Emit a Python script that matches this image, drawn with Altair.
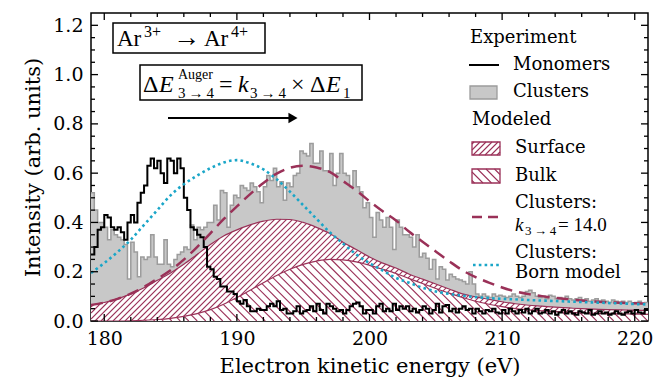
import altair as alt
import numpy as np
import pandas as pd

# ---------------- data ----------------
BIN_START = 179.0
BIN_WIDTH = 0.25

monomers = [
    0.27, 0.30, 0.37, 0.38, 0.43, 0.42, 0.38, 0.37, 0.38, 0.36,
    0.33, 0.40, 0.43, 0.40, 0.48, 0.52, 0.55, 0.63, 0.66, 0.62,
    0.65, 0.60, 0.56, 0.66, 0.65, 0.60, 0.66, 0.62, 0.50, 0.45,
    0.38, 0.37, 0.35, 0.34, 0.30, 0.22, 0.21, 0.18, 0.17, 0.14,
    0.14, 0.12, 0.12, 0.11, 0.08, 0.07, 0.085, 0.06, 0.04, 0.04,
    0.05, 0.045, 0.045, 0.06, 0.07, 0.06, 0.08, 0.045, 0.05, 0.03,
    0.03, 0.04, 0.06, 0.03, 0.04, 0.045, 0.06, 0.04, 0.07, 0.045,
    0.03, 0.07, 0.06, 0.05, 0.04, 0.045, 0.03, 0.045, 0.06, 0.07,
    0.075, 0.06, 0.03, 0.045, 0.045, 0.03, 0.06, 0.07, 0.04, 0.05,
    0.04, 0.07, 0.045, 0.06, 0.05, 0.06, 0.04, 0.05, 0.035, 0.045,
    0.06, 0.05, 0.03, 0.045, 0.07, 0.035, 0.06, 0.065, 0.04, 0.05,
    0.035, 0.05, 0.06, 0.045, 0.05, 0.03, 0.05, 0.04, 0.03, 0.045,
    0.04, 0.05, 0.035, 0.03, 0.045, 0.03, 0.05, 0.04, 0.03, 0.045,
    0.035, 0.05, 0.03, 0.04, 0.05, 0.03, 0.035, 0.045, 0.03, 0.04,
    0.025, 0.035, 0.045, 0.03, 0.04, 0.03, 0.025, 0.04, 0.035, 0.03,
    0.045, 0.025, 0.03, 0.04, 0.03, 0.035, 0.025, 0.03, 0.04, 0.03,
    0.025, 0.035, 0.04, 0.03, 0.045, 0.035, 0.03, 0.045,
]

clusters = [
    0.52, 0.45, 0.40, 0.40, 0.38, 0.33, 0.37, 0.35, 0.34, 0.33,
    0.31, 0.17, 0.32, 0.28, 0.18, 0.26, 0.25, 0.26, 0.35, 0.26,
    0.23, 0.23, 0.33, 0.23, 0.22, 0.25, 0.27, 0.28, 0.30, 0.29,
    0.39, 0.33, 0.38, 0.37, 0.38, 0.40, 0.40, 0.47, 0.41, 0.53,
    0.52, 0.38, 0.47, 0.51, 0.50, 0.55, 0.54,
    0.53, 0.56, 0.545, 0.525, 0.48, 0.545, 0.59, 0.57, 0.62, 0.545,
    0.565, 0.49, 0.56, 0.545, 0.59, 0.60, 0.69, 0.68, 0.67, 0.72,
    0.64, 0.64, 0.69, 0.61, 0.61, 0.68, 0.55, 0.60, 0.68, 0.60,
    0.59, 0.545, 0.61, 0.545, 0.525, 0.46, 0.48, 0.42, 0.34, 0.44,
    0.41, 0.38, 0.42, 0.38, 0.29, 0.41, 0.38,
    0.35, 0.35, 0.34, 0.30, 0.35, 0.26, 0.275, 0.255, 0.21, 0.25,
    0.17, 0.22, 0.21, 0.166, 0.19, 0.18, 0.17, 0.166, 0.16, 0.15,
    0.20, 0.15, 0.11,
    0.10, 0.11, 0.10, 0.095, 0.11, 0.10, 0.105, 0.10, 0.095, 0.10,
    0.11, 0.10, 0.095, 0.10, 0.12, 0.125, 0.115, 0.10, 0.095, 0.10,
    0.09, 0.105, 0.10, 0.09, 0.095, 0.09, 0.10, 0.09, 0.085, 0.09,
    0.095, 0.085, 0.09, 0.08, 0.085, 0.09, 0.08, 0.085, 0.08, 0.075,
    0.085, 0.08, 0.075, 0.08, 0.075, 0.08, 0.07, 0.075, 0.08, 0.07,
    0.075,
]

model_energy = list(range(179, 222))
surface = [0.065, 0.075, 0.09, 0.11, 0.135, 0.165, 0.195, 0.23, 0.27, 0.31,
           0.345, 0.37, 0.39, 0.405, 0.413, 0.412, 0.40, 0.38, 0.355, 0.32,
           0.29, 0.26, 0.235, 0.215, 0.19, 0.17, 0.15, 0.13, 0.11, 0.098,
           0.088, 0.078, 0.07, 0.064, 0.06, 0.056, 0.053, 0.05, 0.048, 0.046,
           0.045, 0.044, 0.043]
bulk = [0.0, 0.0, 0.0, 0.001, 0.003, 0.006, 0.011, 0.019, 0.03, 0.046,
        0.068, 0.095, 0.125, 0.155, 0.185, 0.21, 0.23, 0.243, 0.25, 0.248,
        0.24, 0.226, 0.21, 0.193, 0.172, 0.152, 0.132, 0.113, 0.096, 0.08,
        0.068, 0.058, 0.05, 0.045, 0.041, 0.038, 0.035, 0.033, 0.031, 0.03,
        0.029, 0.028, 0.027]
clusters_model = [0.065, 0.075, 0.09, 0.111, 0.138, 0.171, 0.206, 0.249, 0.30, 0.356,
                  0.413, 0.465, 0.515, 0.56, 0.598, 0.622, 0.63, 0.623, 0.605, 0.568,
                  0.53, 0.486, 0.445, 0.408, 0.362, 0.322, 0.282, 0.243, 0.206, 0.178,
                  0.156, 0.136, 0.12, 0.109, 0.101, 0.094, 0.088, 0.083, 0.079, 0.076,
                  0.074, 0.072, 0.07]
born_model = [0.195, 0.235, 0.28, 0.33, 0.39, 0.45, 0.51, 0.555, 0.59, 0.62,
              0.643, 0.653, 0.64, 0.615, 0.575, 0.525, 0.47, 0.415, 0.36, 0.315,
              0.27, 0.235, 0.205, 0.175, 0.155, 0.135, 0.12, 0.11, 0.103, 0.097,
              0.093, 0.09, 0.088, 0.085, 0.083, 0.081, 0.079, 0.077, 0.075, 0.073,
              0.071, 0.069, 0.067]

x_major = [180, 190, 200, 210, 220]
x_minor = [e for e in range(180, 221, 2) if e % 10 != 0]
y_major = [0.0, 0.2, 0.4, 0.6, 0.8, 1.0, 1.2]
y_minor = [round(0.05 * i, 2) for i in range(1, 25) if i % 4 != 0]

# ---------------- layout / style ----------------
XMIN, XMAX, YMIN, YMAX = 179.0, 221.0, 0.0, 1.25
W, H = 557, 308
MAROON = "#9a3158"
CYAN = "#1aa6c8"
GRAY_FILL = "#c8c8c8"
GRAY_EDGE = "#9c9c9c"
SERIF = "DejaVu Serif"
MATH = "Liberation Serif"

kx = W / (XMAX - XMIN)
ky = H / (YMAX - YMIN)

n = len(monomers)
edges = BIN_START + BIN_WIDTH * np.arange(n + 1)
hist = pd.DataFrame({"E": edges,
                     "mono": monomers + [monomers[-1]],
                     "clus": clusters + [clusters[-1]]})
model = pd.DataFrame({"E": model_energy, "surface": surface, "bulk": bulk,
                      "total": clusters_model, "born": born_model})

xs = alt.Scale(domain=[XMIN, XMAX], nice=False, zero=False)
ys = alt.Scale(domain=[YMIN, YMAX], nice=False, zero=False)

X_AXIS = alt.Axis(values=x_major, ticks=False, domain=False, grid=False,
                  labelFont=SERIF, labelFontSize=19, labelColor="black",
                  labelPadding=8, titleFont=SERIF, titleFontSize=21,
                  titleFontWeight="normal", titleColor="black",
                  titlePadding=7, labelFlush=False)
Y_AXIS = alt.Axis(values=y_major, format=".1f", ticks=False, domain=False,
                  grid=False, labelFont=SERIF, labelFontSize=19,
                  labelColor="black", labelPadding=8, titleFont=SERIF,
                  titleFontSize=21, titleFontWeight="normal",
                  titleColor="black", titlePadding=9, labelFlush=False)
X_TITLE = "Electron kinetic energy  (eV)"
Y_TITLE = "Intensity (arb. units)"


def X(f):
    return alt.X(f, type="quantitative", scale=xs, axis=X_AXIS, title=X_TITLE)


def Y(f):
    return alt.Y(f, type="quantitative", scale=ys, axis=Y_AXIS, title=Y_TITLE)


# hatch segments (geometry derived from the read curves)
grid_px = np.linspace(0, W, 8000)
grid_E = XMIN + grid_px / kx


def hatch(curve, spacing, kind):
    s = np.interp(grid_E, model_energy, curve) * ky
    segs = []
    if kind == "/":
        for c in np.arange(-H, W, spacing):
            xa = max(c, 0.0)
            ya = xa - c
            if ya > np.interp(xa, grid_px, s):
                continue
            f = (grid_px - c) - s
            m = (grid_px >= xa) & (f >= 0)
            xb = grid_px[m][0] if m.any() else W
            segs.append((xa, ya, xb, xb - c))
    else:
        for c in np.arange(spacing / 2, W + H, spacing):
            f = (c - grid_px) - s
            m = f <= 0
            if not m.any():
                continue
            xa = grid_px[m][0]
            xb = min(c, W)
            if xa >= xb:
                continue
            segs.append((xa, c - xa, xb, c - xb))
    a = np.array(segs)
    return pd.DataFrame({"E1": XMIN + a[:, 0] / kx, "v1": a[:, 1] / ky,
                         "E2": XMIN + a[:, 2] / kx, "v2": a[:, 3] / ky})


def swatch_hatch(x0, y0, x1, y1, spacing, kind):
    segs = []
    rng = (np.arange(x0 + y0 - 40, x1 + y1 + 40, spacing) if kind == "/"
           else np.arange(x0 - y1 - 40, x1 - y0 + 40, spacing))
    for c in rng:
        if kind == "/":  # x + y = c
            xs_ = max(x0, c - y1)
            xe = min(x1, c - y0)
            if xs_ < xe:
                segs.append((xs_, c - xs_, xe, c - xe))
        else:  # x - y = c
            xs_ = max(x0, c + y0)
            xe = min(x1, c + y1)
            if xs_ < xe:
                segs.append((xs_, xs_ - c, xe, xe - c))
    a = np.array(segs)
    return pd.DataFrame({"E1": XMIN + a[:, 0] / kx, "v1": (H - a[:, 1]) / ky,
                         "E2": XMIN + a[:, 2] / kx, "v2": (H - a[:, 3]) / ky})


one = pd.DataFrame({"k": [0]})


def label(t, px, py, size=18, font=SERIF, style="normal", align="left",
          baseline="middle"):
    return alt.Chart(one).mark_text(
        text=t, font=font, fontSize=size, fontStyle=style, align=align,
        baseline=baseline, color="black").encode(x=alt.value(px), y=alt.value(py))


def rule_px(x0, y0, x1, y1, color="black", width=1.5, dash=None):
    kw = dict(color=color, strokeWidth=width)
    if dash:
        kw["strokeDash"] = dash
    return alt.Chart(one).mark_rule(**kw).encode(
        x=alt.value(x0), y=alt.value(y0), x2=alt.value(x1), y2=alt.value(y1))


def rect_px(x0, y0, x1, y1, fill="white", stroke="black", width=1.5):
    return alt.Chart(one).mark_rect(fill=fill, stroke=stroke, strokeWidth=width).encode(
        x=alt.value(x0), y=alt.value(y0), x2=alt.value(x1), y2=alt.value(y1))


layers = []

# clusters histogram
layers.append(alt.Chart(hist).mark_area(interpolate="step-after", color=GRAY_FILL, clip=True)
              .encode(x=X("E"), y=Y("clus")))
layers.append(alt.Chart(hist).mark_line(interpolate="step-after", color=GRAY_EDGE,
                                        strokeWidth=1.5, clip=True)
              .encode(x=X("E"), y=Y("clus")))

# surface (white fill + /// hatch)
layers.append(alt.Chart(model).mark_area(interpolate="monotone", color="white", clip=True)
              .encode(x=X("E"), y=Y("surface")))
layers.append(alt.Chart(hatch(surface, 6.0, "/")).mark_rule(color=MAROON, strokeWidth=1.1, clip=True)
              .encode(x=X("E1"), y=Y("v1"), x2="E2", y2="v2"))
layers.append(alt.Chart(model).mark_line(interpolate="monotone", color=MAROON, strokeWidth=1.2, clip=True)
              .encode(x=X("E"), y=Y("surface")))

# bulk (white fill + \\\ hatch)
layers.append(alt.Chart(model).mark_area(interpolate="monotone", color="white", clip=True)
              .encode(x=X("E"), y=Y("bulk")))
layers.append(alt.Chart(hatch(bulk, 8.5, "\\")).mark_rule(color=MAROON, strokeWidth=1.1, clip=True)
              .encode(x=X("E1"), y=Y("v1"), x2="E2", y2="v2"))
layers.append(alt.Chart(model).mark_line(interpolate="monotone", color=MAROON, strokeWidth=1.2, clip=True)
              .encode(x=X("E"), y=Y("bulk")))

# monomers
layers.append(alt.Chart(hist).mark_line(interpolate="step-after", color="black",
                                        strokeWidth=2, clip=True).encode(x=X("E"), y=Y("mono")))
# modeled curves
layers.append(alt.Chart(model).mark_line(interpolate="monotone", color=MAROON, strokeWidth=2.5,
                                         strokeDash=[12, 7], clip=True)
              .encode(x=X("E"), y=Y("total")))
layers.append(alt.Chart(model).mark_line(interpolate="monotone", color=CYAN, strokeWidth=2.6,
                                         strokeDash=[2.6, 3.2], clip=True)
              .encode(x=X("E"), y=Y("born")))

# ticks (inward, all four sides)
xmaj = pd.DataFrame({"E": x_major})
xmin_ = pd.DataFrame({"E": x_minor})
ymaj = pd.DataFrame({"v": y_major})
ymin_ = pd.DataFrame({"v": y_minor})
for df, ln in ((xmaj, 7), (xmin_, 4)):
    layers.append(alt.Chart(df).mark_rule(color="black", strokeWidth=1.3)
                  .encode(x=X("E"), y=alt.value(H), y2=alt.value(H - ln)))
    layers.append(alt.Chart(df).mark_rule(color="black", strokeWidth=1.3)
                  .encode(x=X("E"), y=alt.value(0), y2=alt.value(ln)))
for df, ln in ((ymaj, 7), (ymin_, 4)):
    layers.append(alt.Chart(df).mark_rule(color="black", strokeWidth=1.3)
                  .encode(y=Y("v"), x=alt.value(0), x2=alt.value(ln)))
    layers.append(alt.Chart(df).mark_rule(color="black", strokeWidth=1.3)
                  .encode(y=Y("v"), x=alt.value(W), x2=alt.value(W - ln)))

# annotation box 1: Ar3+ -> Ar4+
layers.append(rect_px(22, 10, 174, 40))
layers.append(label("Ar", 26, 33, size=23, font=MATH, baseline="alphabetic"))
layers.append(label("3+", 53, 24, size=16, font=MATH, baseline="alphabetic"))
layers.append(label("\u2192", 82, 33, size=27, font=MATH, baseline="alphabetic"))
layers.append(label("Ar", 113, 33, size=23, font=MATH, baseline="alphabetic"))
layers.append(label("4+", 140, 24, size=16, font=MATH, baseline="alphabetic"))

# annotation box 2: Delta E_{3->4}^{Auger} = k_{3->4} x Delta E_1
layers.append(rect_px(49, 52, 271, 87))
layers.append(label("\u0394", 52, 79, size=24, font=MATH, baseline="alphabetic"))
layers.append(label("E", 68, 79, size=24, font=MATH, style="italic", baseline="alphabetic"))
layers.append(label("Auger", 87, 66, size=14, font=MATH, baseline="alphabetic"))
layers.append(label("3\u2009\u2192\u20094", 87, 85, size=15, font=MATH, baseline="alphabetic"))
layers.append(label("=", 128, 79, size=24, font=MATH, baseline="alphabetic"))
layers.append(label("k", 147, 79, size=24, font=MATH, style="italic", baseline="alphabetic"))
layers.append(label("3\u2009\u2192\u20094", 159, 85, size=15, font=MATH, baseline="alphabetic"))
layers.append(label("\u00d7", 200, 79, size=24, font=MATH, baseline="alphabetic"))
layers.append(label("\u0394", 219, 79, size=24, font=MATH, baseline="alphabetic"))
layers.append(label("E", 235, 79, size=24, font=MATH, style="italic", baseline="alphabetic"))
layers.append(label("1", 252, 85, size=15, font=MATH, baseline="alphabetic"))

# arrow
layers.append(rule_px(77, 105, 200, 105, width=2))
layers.append(alt.Chart(one).mark_point(shape="triangle-right", filled=True, color="black",
                                        size=110, opacity=1)
              .encode(x=alt.value(202), y=alt.value(105)))

# legend
LX_SW0, LX_SW1 = 378, 408
LX_TXT = 422
layers.append(label("Experiment", 379, 25))
layers.append(rule_px(LX_SW0, 52, LX_SW1, 52, width=2))
layers.append(label("Monomers", LX_TXT, 52))
layers.append(rect_px(379, 73, 406, 86, fill=GRAY_FILL, stroke=GRAY_EDGE, width=1.3))
layers.append(label("Clusters", LX_TXT, 79))
layers.append(label("Modeled", 381, 107))
layers.append(rect_px(381, 129, 409, 142, fill="white", stroke=MAROON, width=1.3))
layers.append(alt.Chart(swatch_hatch(381, 129, 409, 142, 6.0, "/"))
              .mark_rule(color=MAROON, strokeWidth=1.1)
              .encode(x=X("E1"), y=Y("v1"), x2="E2", y2="v2"))
layers.append(label("Surface", 424, 135))
layers.append(rect_px(381, 156, 409, 170, fill="white", stroke=MAROON, width=1.3))
layers.append(alt.Chart(swatch_hatch(381, 156, 409, 170, 8.5, "\\"))
              .mark_rule(color=MAROON, strokeWidth=1.1)
              .encode(x=X("E1"), y=Y("v1"), x2="E2", y2="v2"))
layers.append(label("Bulk", 424, 163))
layers.append(rule_px(381, 204, 409, 204, color=MAROON, width=2.5, dash=[10, 6]))
layers.append(label("Clusters:", 424, 190))
layers.append(label("k", 424, 218, size=19, font=MATH, style="italic", baseline="alphabetic"))
layers.append(label("3\u2009\u2192\u20094", 434, 222, size=13, font=MATH, baseline="alphabetic"))
layers.append(label("= 14.0", 467, 218, size=19, font=MATH, baseline="alphabetic"))
layers.append(rule_px(382, 252, 409, 252, color=CYAN, width=2.6, dash=[2.6, 3.2]))
layers.append(label("Clusters:", 424, 240))
layers.append(label("Born model", 424, 260))

chart = alt.layer(*layers).properties(
    width=W, height=H,
    padding={"left": 83, "top": 5, "right": 5, "bottom": 58},
    autosize=alt.AutoSizeParams(type="none"),
).configure_view(stroke="black", strokeWidth=1.5)

chart.save("out.html", embed_options={"renderer": "svg", "actions": False})
